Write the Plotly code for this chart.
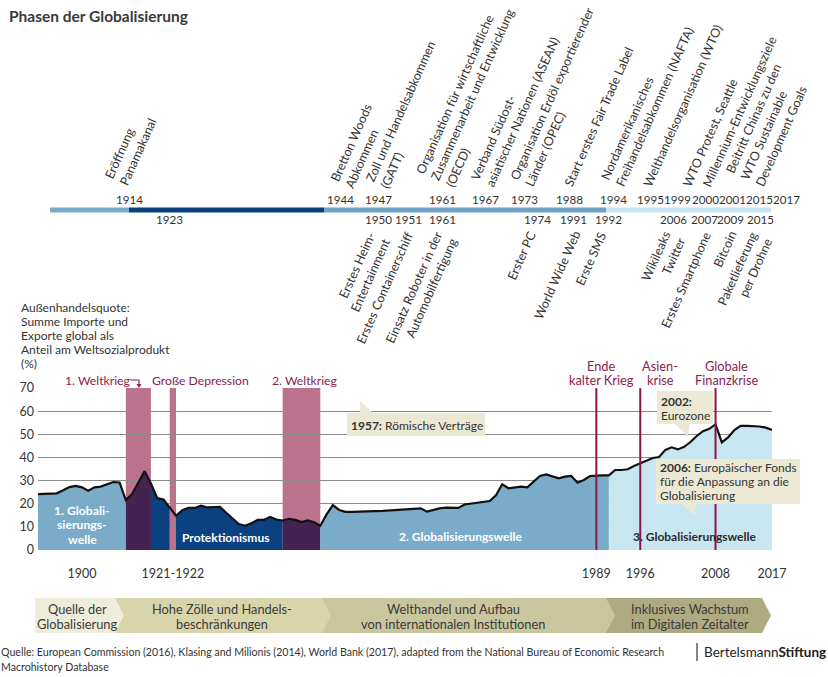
import math
import plotly.graph_objects as go

# ---------------- data ----------------
YEARS = [1900, 1901, 1902, 1903, 1904, 1905, 1906, 1907, 1908, 1909, 1910, 1911, 1912, 1913,
         1914, 1915, 1916, 1917, 1918, 1919, 1920, 1921, 1922, 1923, 1924, 1925, 1926, 1927,
         1928, 1929, 1930, 1931, 1932, 1933, 1934, 1935, 1936, 1937, 1938, 1939, 1940, 1941,
         1942, 1943, 1944, 1945, 1946, 1947, 1948, 1949, 1950, 1955, 1960, 1961, 1962, 1963,
         1964, 1965, 1966, 1967, 1968, 1969, 1970, 1971, 1972, 1973, 1974, 1975, 1976, 1977,
         1978, 1979, 1980, 1981, 1982, 1983, 1984, 1985, 1986, 1987, 1988, 1989, 1990, 1991,
         1992, 1993, 1994, 1995, 1996, 1997, 1998, 1999, 2000, 2001, 2002, 2003, 2004, 2005,
         2006, 2007, 2008, 2009, 2010, 2011, 2012, 2013, 2014, 2015, 2016, 2017]
TRADE = [24.2, 24.2, 24.4, 24.5, 25.8, 27.2, 27.7, 27.1, 25.6, 27.1, 27.4, 28.5, 29.4, 29.2,
         21.6, 24.2, 29.2, 34.1, 28.8, 22.5, 21.8, 18.5, 14.8, 17.2, 18.2, 18.2, 19.2, 18.4,
         18.7, 18.7, 16.1, 13.7, 11.2, 10.5, 11.5, 13.0, 13.0, 14.3, 13.2, 12.7, 13.5, 13.0,
         12.1, 12.8, 12.0, 10.5, 15.4, 19.4, 17.3, 16.5, 16.5, 16.9, 17.6, 18.0, 16.6, 17.3,
         18.0, 18.3, 18.3, 18.2, 19.7, 20.0, 20.4, 20.7, 21.2, 23.7, 28.4, 26.7, 27.1, 27.4,
         27.1, 29.5, 32.0, 32.7, 32.0, 31.0, 31.7, 32.0, 29.1, 30.3, 32.0, 32.3, 32.3, 32.3,
         34.6, 34.6, 34.9, 36.3, 37.5, 38.9, 39.8, 40.2, 43.3, 44.4, 43.5, 44.6, 46.7, 49.3,
         51.4, 52.4, 54.3, 46.5, 48.7, 51.9, 53.7, 53.7, 53.6, 53.4, 52.9, 51.9]

PHASE_START = [1900, 1914, 1918, 1922, 1939, 1945, 1991]
PHASE_END = [1914, 1918, 1921, 1939, 1945, 1991, 2017]
PHASE_KIND = ["welle", "krieg", "prot", "prot", "krieg", "welle", "welle3"]

EVENT_NAMES = ["1. Weltkrieg", "Große Depression", "2. Weltkrieg"]
EVENT_START = [1914, 1921, 1939]
EVENT_END = [1918, 1922, 1945]

CRISIS_YEARS = [1989, 1996, 2008]
CRISIS_LABELS = [["Ende", "kalter Krieg"], ["Asien-", "krise"], ["Globale", "Finanzkrise"]]

Y_TICKS = [0, 10, 20, 30, 40, 50, 60, 70]
X_TICK_VALS = [1907, 1921.5, 1989, 1996, 2008, 2017]
X_TICK_TEXT = ["1900", "1921-1922", "1989", "1996", "2008", "2017"]

Y_TITLE = ["Außenhandelsquote:", "Summe Importe und", "Exporte global als",
           "Anteil am Weltsozialprodukt", "(%)"]

TL_UPPER_YEARS = ["1914", "1944", "1947", "1961", "1967", "1973", "1988", "1994", "1995",
                  "1999", "2000", "2001", "2015", "2017"]
TL_LOWER_YEARS = ["1923", "1950", "1951", "1961", "1974", "1991", "1992", "2006", "2007",
                  "2009", "2015"]

TOP_EVENTS = ["Eröffnung<br>Panamakanal",
              "Bretton Woods<br>Abkommen",
              "Zoll und Handelsabkommen<br>(GATT)",
              "Organisation für wirtschaftliche<br>Zusammenarbeit und Entwicklung<br>(OECD)",
              "Verband Südost-<br>asiatischer Nationen (ASEAN)",
              "Organisation Erdöl exportierender<br>Länder (OPEC)",
              "Start erstes Fair Trade Label",
              "Nordamerikanisches<br>Freihandelsabkommen (NAFTA)",
              "Welthandelsorganisation (WTO)",
              "WTO Protest, Seattle",
              "Millennium-Entwicklungsziele",
              "Beitritt Chinas zu den<br>WTO Sustainable<br>Development Goals"]
BOTTOM_EVENTS = ["Erstes Heim-<br>Entertainment",
                 "Erstes Containerschiff",
                 "Einsatz Roboter in der<br>Automobilfertigung",
                 "Erster PC",
                 "World Wide Web",
                 "Erste SMS",
                 "Wikileaks<br>Twitter",
                 "Erstes Smartphone",
                 "Bitcoin",
                 "Paketlieferung<br>per Drohne"]

BAND_TEXT = [["Quelle der", "Globalisierung"],
             ["Hohe Zölle und Handels-", "beschränkungen"],
             ["Welthandel und Aufbau", "von internationalen Institutionen"],
             ["Inklusives Wachstum", "im Digitalen Zeitalter"]]

TITLE = "Phasen der Globalisierung"
SOURCE = ["Quelle: European Commission (2016), Klasing and Milionis (2014), World Bank (2017), "
          "adapted from the National Bureau of Economic Research",
          "Macrohistory Database"]

# ---------------- layout / style ----------------
W, H = 828, 677
L, R, T, B = 38, 56, 388, 127
PW, PH = W - L - R, H - T - B

FONT = "Lato, 'Noto Sans', sans-serif"
TXT = "#333333"
CRIMSON = "#8c2150"
PINK = "#bb728c"
BEIGE = "#ebe8d4"
FILLS = {"welle": "#7aacca", "krieg": "#442353", "prot": "#0b4180", "welle3": "#c8e6f2"}


def px(x):
    return (x - L) / PW


def py(y):
    return (H - B - y) / PH


ann = []
shapes = []


def text(t, x, y, size=12.5, color=TXT, xa="left", ya="middle", family=FONT, **kw):
    ann.append(dict(text=t, x=px(x), y=py(y), xref="paper", yref="paper", xanchor=xa,
                    yanchor=ya, showarrow=False, font=dict(family=family, size=size, color=color),
                    borderpad=0, borderwidth=0, **kw))


def poly(pts, color, layer="above", lw=0):
    d = "M " + " L ".join(f"{px(a):.5f},{py(b):.5f}" for a, b in pts) + " Z"
    shapes.append(dict(type="path", path=d, xref="paper", yref="paper", fillcolor=color,
                       line=dict(width=lw, color=color), layer=layer))


fig = go.Figure()

# area fills per phase
for s, e, k in zip(PHASE_START, PHASE_END, PHASE_KIND):
    xs = [x for x in YEARS if s <= x <= e]
    ys = [v for x, v in zip(YEARS, TRADE) if s <= x <= e]
    fig.add_trace(go.Scatter(x=xs, y=ys, mode="lines", line=dict(width=0), fill="tozeroy",
                             fillcolor=FILLS[k], hoverinfo="skip", showlegend=False))

fig.add_trace(go.Scatter(x=YEARS, y=TRADE, mode="lines", line=dict(color="#111111", width=2.2),
                         showlegend=False))

# event bars (below grid)
for s, e in zip(EVENT_START, EVENT_END):
    shapes.append(dict(type="rect", xref="x", yref="y", x0=s, x1=e, y0=0, y1=70,
                       fillcolor=PINK, line=dict(width=0), layer="below"))
# crisis lines
for yr in CRISIS_YEARS:
    shapes.append(dict(type="line", xref="x", yref="y", x0=yr, x1=yr, y0=0, y1=70,
                       line=dict(color="#8a1446", width=2), layer="above"))

# event labels
ev_x = [65, 152, 272]
for t, x in zip(EVENT_NAMES, ev_x):
    text(t, x, 380, size=12.2, color=CRIMSON)
# small bent arrow after "1. Weltkrieg"
shapes.append(dict(type="path", xref="paper", yref="paper",
                   path=f"M {px(130):.5f},{py(380):.5f} L {px(139):.5f},{py(380):.5f} "
                        f"L {px(139):.5f},{py(385):.5f}",
                   line=dict(color=CRIMSON, width=1.2)))
poly([(136.5, 384), (141.5, 384), (139, 388)], CRIMSON)

crisis_x = [601, 660, 726]
for lines, x in zip(CRISIS_LABELS, crisis_x):
    for i, ln in enumerate(lines):
        text(ln, x, 366 + 14 * i, size=12.8, color=CRIMSON, xa="center")

# labels in the area
for i, ln in enumerate(["1. Globali-", "sierungs-", "welle"]):
    text(f"<b>{ln}</b>", 82, 510 + 14.5 * i, size=12.2, color="white", xa="center")
text("<b>Protektionismus</b>", 225, 537, size=12, color="white", xa="center")
text("<b>2. Globalisierungswelle</b>", 460, 536, size=12, color="white", xa="center")
text("<b>3. Globalisierungswelle</b>", 694, 536, size=12, color="#2b2b2b", xa="center")

# callouts
CS = 12
shapes.append(dict(type="rect", xref="paper", yref="paper", x0=px(347), x1=px(485),
                   y0=py(436), y1=py(413), fillcolor=BEIGE, line=dict(width=0), layer="above"))
poly([(360, 414), (374, 414), (360, 401)], BEIGE)
text("<b>1957:</b> Römische Verträge", 351, 425, size=CS)

shapes.append(dict(type="rect", xref="paper", yref="paper", x0=px(657), x1=px(713),
                   y0=py(424), y1=py(391), fillcolor=BEIGE, line=dict(width=0), layer="above"))
poly([(674, 423), (690, 423), (688, 437)], BEIGE)
text("<b>2002:</b>", 661, 401, size=CS)
text("Eurozone", 661, 415, size=CS)

shapes.append(dict(type="rect", xref="paper", yref="paper", x0=px(656), x1=px(800),
                   y0=py(504), y1=py(459), fillcolor=BEIGE, line=dict(width=0), layer="above"))
poly([(681, 503), (696, 503), (695, 516)], BEIGE)
for i, ln in enumerate(["<b>2006:</b> Europäischer Fonds", "für die Anpassung an die",
                        "Globalisierung"]):
    text(ln, 660, 467 + 14.2 * i, size=CS)

# y-axis title
for i, ln in enumerate(Y_TITLE):
    text(ln, 21, 307 + 14 * i, size=12)

# title
text(f"<b>{TITLE}</b>", 9, 16, size=15.5, color="#3a3a3a")

# ---------------- top timeline ----------------
TL_Y = 210
tl_segments = [(50, 129, "#79abc8"), (129, 324, "#0c3f7e"), (324, 606, "#6fa2c3"),
               (606, 771, "#c6e4f1")]
for x0, x1, c in tl_segments:
    shapes.append(dict(type="rect", xref="paper", yref="paper", x0=px(x0), x1=px(x1),
                       y0=py(TL_Y + 2.5), y1=py(TL_Y - 2.5), fillcolor=c, line=dict(width=0),
                       layer="above"))
up_x = [129, 340, 378, 442, 485, 524, 569, 613, 650, 677, 705, 732, 759, 786]
low_x = [169, 378, 408, 442, 537, 573, 608, 673, 704, 730, 760]
for t, x in zip(TL_UPPER_YEARS, up_x):
    text(t, x, 199, size=11.6, xa="center")
for t, x in zip(TL_LOWER_YEARS, low_x):
    text(t, x, 220, size=11.6, xa="center")

ANG = 66
FS = 12.5
SN = math.sin(math.radians(ANG))
SHIFT = 9
up_start = [(122, 188), (348, 190), (383, 191), (448, 189), (488, 189), (527, 189),
            (567, 189), (618, 189), (645, 189), (685, 189), (705, 189), (758, 189)]
for t, (x, y) in zip(TOP_EVENTS, up_start):
    n = t.count("<br>") + 1
    h = FS * (1.3 * (n - 1) + 1.25)
    text(t, x - h * SN + SHIFT, y, size=FS, xa="left", ya="bottom", textangle=-ANG,
         align="left")
low_end = [373, 411, 440, 534, 578, 604, 668, 709, 734, 755]
for t, x in zip(BOTTOM_EVENTS, low_end):
    n = t.count("<br>") + 1
    h = FS * (1.3 * (n - 1) + 1.25)
    text(t, x + h * SN - SHIFT, 229, size=FS, xa="right", ya="top", textangle=-ANG,
         align="right")

# ---------------- bottom phase band ----------------
band_top, band_bot = 598, 633
band_mid = (band_top + band_bot) / 2
band_edges = [35, 115, 322, 606, 762]
band_cols = ["#eeecdb", "#d8d5ab", "#c9c69d", "#aeab82"]
band_cx = [77, 222, 453, 690]
for i in range(3, -1, -1):
    x0, x1 = band_edges[i], band_edges[i + 1]
    poly([(x0, band_top), (x1, band_top), (x1 + 9, band_mid), (x1, band_bot), (x0, band_bot)],
         band_cols[i])
for lines, cx in zip(BAND_TEXT, band_cx):
    for j, ln in enumerate(lines):
        text(ln, cx, 609 + 15 * j, size=12.8, xa="center", color="#3a3a3a")

# source & logo
for i, ln in enumerate(SOURCE):
    text(ln, 1, 652 + 15 * i, size=10.6)
shapes.append(dict(type="line", xref="paper", yref="paper", x0=px(697), x1=px(697),
                   y0=py(661), y1=py(643), line=dict(color="#333", width=1.2)))
text("Bertelsmann<b>Stiftung</b>", 704, 652, size=13.5, color="#222")

fig.update_layout(
    width=W, height=H, margin=dict(l=L, r=R, t=T, b=B),
    paper_bgcolor="white", plot_bgcolor="white",
    showlegend=False, annotations=ann, shapes=shapes,
    font=dict(family=FONT, color=TXT),
    xaxis=dict(range=[1900, 2017], showgrid=False, zeroline=False, showline=False,
               tickvals=X_TICK_VALS, ticktext=X_TICK_TEXT, ticks="",
               tickfont=dict(size=12.5, color=TXT), ticklabelstandoff=14),
    yaxis=dict(range=[0, 70.05], showgrid=True, gridcolor="#8c8c8c", gridwidth=1.2,
               zeroline=False, showline=False, tickvals=Y_TICKS, ticks="",
               tickfont=dict(size=12.5, color=TXT), ticklabelstandoff=3),
)

fig.write_html("out.html", config={"displayModeBar": False},
               post_script="document.body.style.margin='0px';"
                           "document.body.style.overflow='hidden';")
